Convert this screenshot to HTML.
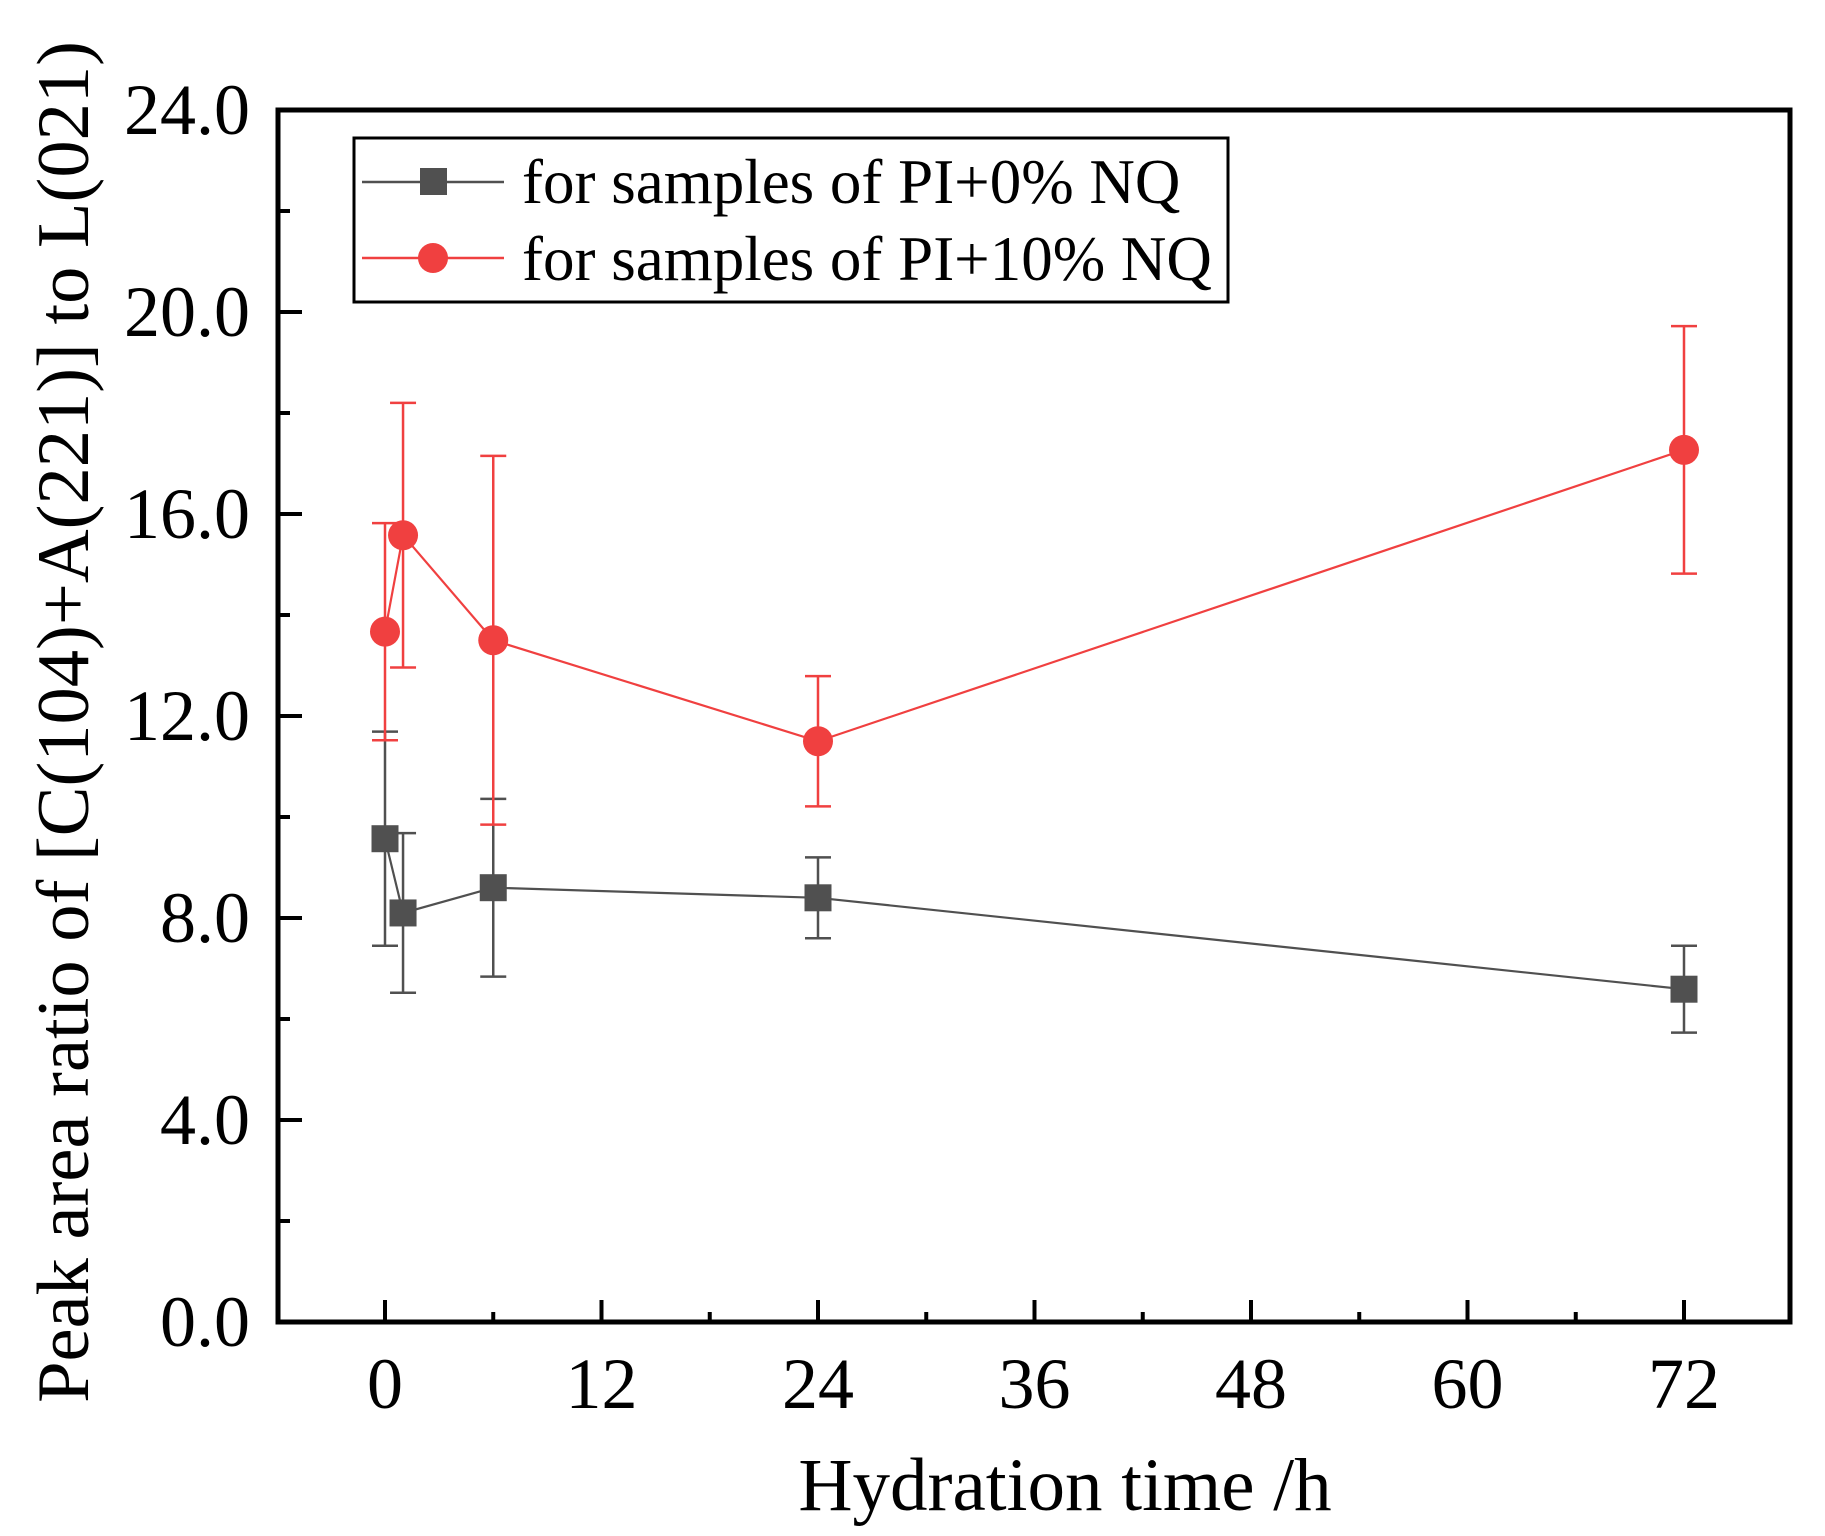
<!DOCTYPE html>
<html><head><meta charset="utf-8"><style>
html,body{margin:0;padding:0;background:#fff;}
svg{display:block;font-family:"Liberation Serif",serif;}
</style></head><body>
<svg id="chart" width="1825" height="1536" viewBox="0 0 1825 1536">
<g id="plot"></g>
</svg>
<script>
const times = [0, 1, 6, 24, 72];
const ref0 = [9.57, 8.1, 8.6, 8.4, 6.59];
const ref0Err = [2.12, 1.58, 1.76, 0.8, 0.86];
const nq10 = [13.67, 15.58, 13.5, 11.5, 17.27];
const nq10Err = [2.15, 2.62, 3.65, 1.29, 2.45];
const xTicks = [0, 12, 24, 36, 48, 60, 72];
const yTicks = [0, 4, 8, 12, 16, 20, 24];

const L=278, R=1790, T=110, B=1322;
const xs = v => 385 + (v/12)*216.5;
const ys = v => B - v*(B-T)/24;
const NS='http://www.w3.org/2000/svg';
const g=document.getElementById('plot');
function mk(tag, at, parent){const e=document.createElementNS(NS,tag);for(const k in at)e.setAttribute(k,at[k]);(parent||g).appendChild(e);return e;}

for(let v=0; v<=24; v+=2){
  const major = v%4===0;
  const t=mk('line',{x1:L,x2:L+(major?24:12),y1:ys(v),y2:ys(v),stroke:'#000','stroke-width':4});
  
  
}
for(let v=0; v<=78; v+=6){
  const x=xs(v); if(x>R-3) continue;
  const major = v%12===0;
  const t=mk('line',{x1:x,x2:x,y1:B,y2:B-(major?22:10),stroke:'#000','stroke-width':4});
  
  
}
yTicks.forEach(v=>{
  const t=mk('text',{x:250,y:ys(v)+24,'text-anchor':'end','font-size':72});
  t.textContent=v.toFixed(1);
  
  
});
xTicks.forEach(v=>{
  const t=mk('text',{x:xs(v),y:1408,'text-anchor':'middle','font-size':72});
  t.textContent=String(v);
  
  
});

function series(vals, errs, color, kind, name){
  const grp=mk('g',{});
  
  
  vals.forEach((v,i)=>{
    const x=xs(times[i]), y1=ys(v+errs[i]), y2=ys(v-errs[i]);
    const e=mk('path',{d:`M${x-13},${y1}H${x+13}M${x},${y1}V${y2}M${x-13},${y2}H${x+13}`,stroke:color,'stroke-width':2.5,fill:'none'},grp);
    
    
  });
  const ln=mk('polyline',{points:vals.map((v,i)=>xs(times[i])+','+ys(v)).join(' '),stroke:color,'stroke-width':2.2,fill:'none'},grp);
  
  
  vals.forEach((v,i)=>{
    const x=xs(times[i]), y=ys(v);
    let m;
    if(kind==='sq') m=mk('rect',{x:x-13.5,y:y-13.5,width:27,height:27,fill:color},grp);
    else m=mk('circle',{cx:x,cy:y,r:15,fill:color},grp);
    
    
  });
}
series(ref0, ref0Err, '#505050', 'sq', 'series-pi-0-nq');
series(nq10, nq10Err, '#f04040', 'ci', 'series-pi-10-nq');

const fr=mk('rect',{x:L,y:T,width:R-L,height:B-T,fill:'none',stroke:'#000','stroke-width':5});



const lg=mk('g',{});


mk('rect',{x:354,y:138,width:874,height:164,fill:'#fff',stroke:'#000','stroke-width':3},lg);
mk('line',{x1:362,x2:504,y1:182,y2:182,stroke:'#505050','stroke-width':2.5},lg);
mk('rect',{x:420,y:168,width:27,height:27,fill:'#505050'},lg);
mk('line',{x1:362,x2:504,y1:258,y2:258,stroke:'#f04040','stroke-width':2.5},lg);
mk('circle',{cx:433,cy:258,r:15,fill:'#f04040'},lg);
const t1=mk('text',{x:522,y:203,'font-size':63},lg); t1.textContent='for samples of PI+0% NQ';


const t2=mk('text',{x:522,y:280,'font-size':63},lg); t2.textContent='for samples of PI+10% NQ';



const xt=mk('text',{x:1065,y:1510,'text-anchor':'middle','font-size':75});
xt.textContent='Hydration time /h';


const yt=mk('text',{x:0,y:0,'text-anchor':'middle','font-size':74.5,transform:'translate(88,722) rotate(-90)'});
yt.textContent='Peak area ratio of [C(104)+A(221)] to L(021)';


</script>
</body></html>
